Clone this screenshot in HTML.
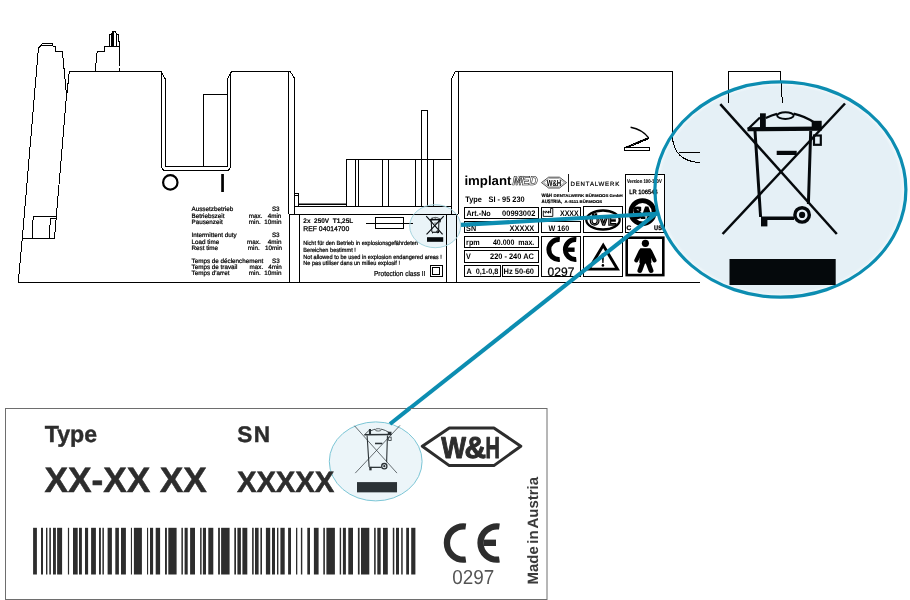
<!DOCTYPE html>
<html lang="de">
<head>
<meta charset="utf-8">
<title>Typenschild</title>
<style>
html,body{margin:0;padding:0;background:#fff;}
body{width:910px;height:600px;overflow:hidden;font-family:"Liberation Sans",sans-serif;}
svg{display:block;position:absolute;left:0;top:0;}
text{font-family:"Liberation Sans",sans-serif;text-rendering:geometricPrecision;}
.ln{fill:none;stroke:#000;stroke-width:1;shape-rendering:crispEdges;}
svg{will-change:transform;}
.tx text{fill:#000;}
</style>
</head>
<body>
<svg width="910" height="600" viewBox="0 0 910 600">

<rect width="910" height="600" fill="#fff"/>

<defs><radialGradient id="eg" cx="0.5" cy="0.5" r="0.5"><stop offset="0" stop-color="#e5f0f6"/><stop offset="0.955" stop-color="#e5f0f6"/><stop offset="0.985" stop-color="#f1f8fb"/><stop offset="1" stop-color="#f1f8fb"/></radialGradient></defs>
<ellipse cx="780.4" cy="189.5" rx="125.6" ry="107.8" fill="url(#eg)"/>
<ellipse cx="435.2" cy="226.2" rx="25.5" ry="21.5" fill="#eaf4f8"/>
<g class="ln">
<path d="M18.2,282.3 L22.3,238.3 L38.4,48.4 L41.3,45 L42.5,43.3 L52,43.3 L53,46.3 L55.3,46.3 L55.3,51.3 L62.4,51.3 L66.5,95 L54.5,238.3 L22.3,238.3"/>
<path d="M41.3,45.6 L53,45.6"/>
<path d="M69.3,71.4 L66.8,95"/>
<path d="M32.2,238.3 L33.2,216.3 L56.2,216.3 M50.2,218.3 L56,218.3 M50.2,218.3 L49.7,238.3"/>
<path d="M95.3,71.4 L96.7,54.7 L97.3,51.3 L104.4,51.3 L104.4,46.3 L118.6,46.3 M109.3,46.3 L109.3,34.3 L111.5,34.3 L111.5,46 M111.5,34.3 L112.5,31.5 L115.5,31.5 L116.7,34.3 L116.7,46 M113.4,32 L113.4,46 M116.7,34.3 L118.2,34.3 L118.2,41.3 L119.3,41.3 L119.3,66 M112.6,32.5 L112.6,46" />
<path d="M119.3,68.4 L119.3,71.4"/>
<path d="M69.3,71.4 L161.4,71.4 L161.4,167.5 L163.5,170.2 L228.6,170.2 L230.6,167.5 L230.6,72.8 L231.8,71.4 L290.2,71.4 L294.6,78.4 L294.6,214.1"/>
<path d="M161.4,72 L165.6,79.6 L165.6,166 L227.4,166 L227.4,79.6 L230.6,73.2"/>
<path d="M203.4,166 L203.4,94.4 L227.4,94.4"/>
<path d="M288.5,71.4 L288.5,214.1 M289.5,214.1 L289.5,282.3"/>
<path d="M18.2,282.3 L699.8,282.3"/>
<path d="M288.5,214.1 L458.3,214.1 M294.6,206 L451.6,206 M299.4,214.1 L299.4,282.3 M446.6,214.1 L446.6,282.3 M456.6,214.1 L456.6,282.3"/>
<path d="M294.6,193.4 L298.5,193.4 L298.5,206 M294.6,195.4 L298.5,195.4"/>
<path d="M298.5,204.2 L346.4,204.2" stroke-width="1.6" shape-rendering="auto"/>
<path d="M346.4,206 L346.4,159.6 L451.6,159.6 M355.4,159.6 V206 M358.4,159.6 V206 M382.6,159.6 V206 M388.6,159.6 V206 M415.5,159.6 V206 M421.5,110.4 V206 M427.6,110.4 V206 M433.6,159.6 V206 M421.5,110.4 H427.6"/>
<path d="M451.5,214.1 L451.5,79 L455.5,71.4 L672.4,71.4 L672.4,136 Q673.5,161 700,162.7 M678.7,152.3 L700,152.3"/>
<path d="M458.3,71.4 L458.3,214.1"/>
<path d="M728.6,102.7 L728.6,71.4 L780.2,71.4 L781.2,85 L782.4,102.7"/>
<path d="M624.2,147.8 H649.9 V150.7 H624.2 Z M625.3,147.4 L648.6,137.6 M626.5,148 L649,138.6" />
<path d="M630.6,127.2 Q642.5,129.5 648.4,137.6" shape-rendering="auto" stroke-width="1.5"/>
<path d="M626,147.4 L648.6,138" shape-rendering="auto" stroke-width="1.6" stroke-dasharray="1.2 0.8"/>
<path d="M365.5,223.4 H413 M375.5,217.8 H403.6 V228.6 H375.5 Z"/>
<rect x="430.3" y="265.3" width="11.9" height="11.5"/><rect x="432.8" y="267.8" width="7" height="6.7"/>
</g>
<circle cx="170.3" cy="182.4" r="7.2" fill="none" stroke="#000" stroke-width="2.2"/>
<rect x="221.2" y="174" width="2.7" height="18" fill="#000"/>
<g class="tx g">
<text x="191.5" y="211.2" font-size="6.3" font-weight="normal" text-anchor="start" stroke="#000" stroke-width="0.22" >Aussetzbetrieb</text>
<text x="279.6" y="211.2" font-size="6.3" font-weight="normal" text-anchor="end" stroke="#000" stroke-width="0.22" >S3</text>
<text x="191.5" y="218.4" font-size="6.3" font-weight="normal" text-anchor="start" stroke="#000" stroke-width="0.22" >Betriebszeit</text>
<text x="248.8" y="218.4" font-size="6.3" font-weight="normal" text-anchor="start" stroke="#000" stroke-width="0.22" >max.</text>
<text x="281.3" y="218.4" font-size="6.3" font-weight="normal" text-anchor="end" stroke="#000" stroke-width="0.22" >4min</text>
<text x="191.5" y="224.2" font-size="6.3" font-weight="normal" text-anchor="start" stroke="#000" stroke-width="0.22" >Pausenzeit</text>
<text x="248.8" y="224.2" font-size="6.3" font-weight="normal" text-anchor="start" stroke="#000" stroke-width="0.22" >min.</text>
<text x="281.5" y="224.2" font-size="6.3" font-weight="normal" text-anchor="end" stroke="#000" stroke-width="0.22" >10min</text>
<text x="191.5" y="237.2" font-size="6.3" font-weight="normal" text-anchor="start" stroke="#000" stroke-width="0.22" >Intermittent duty</text>
<text x="279.6" y="237.2" font-size="6.3" font-weight="normal" text-anchor="end" stroke="#000" stroke-width="0.22" >S3</text>
<text x="191.5" y="244.4" font-size="6.3" font-weight="normal" text-anchor="start" stroke="#000" stroke-width="0.22" >Load time</text>
<text x="247.1" y="244.4" font-size="6.3" font-weight="normal" text-anchor="start" stroke="#000" stroke-width="0.22" >max.</text>
<text x="281.5" y="244.4" font-size="6.3" font-weight="normal" text-anchor="end" stroke="#000" stroke-width="0.22" >4min</text>
<text x="191.5" y="250.2" font-size="6.3" font-weight="normal" text-anchor="start" stroke="#000" stroke-width="0.22" >Rest time</text>
<text x="247.8" y="250.2" font-size="6.3" font-weight="normal" text-anchor="start" stroke="#000" stroke-width="0.22" >min.</text>
<text x="282.1" y="250.2" font-size="6.3" font-weight="normal" text-anchor="end" stroke="#000" stroke-width="0.22" >10min</text>
<text x="191.5" y="263.2" font-size="6.3" font-weight="normal" text-anchor="start" stroke="#000" stroke-width="0.22" >Temps de déclenchement</text>
<text x="279.8" y="263.2" font-size="6.3" font-weight="normal" text-anchor="end" stroke="#000" stroke-width="0.22" >S3</text>
<text x="191.5" y="269.3" font-size="6.3" font-weight="normal" text-anchor="start" stroke="#000" stroke-width="0.22" >Temps de travail</text>
<text x="249.5" y="269.3" font-size="6.3" font-weight="normal" text-anchor="start" stroke="#000" stroke-width="0.22" >max.</text>
<text x="281.8" y="269.3" font-size="6.3" font-weight="normal" text-anchor="end" stroke="#000" stroke-width="0.22" >4min</text>
<text x="191.5" y="275.1" font-size="6.3" font-weight="normal" text-anchor="start" stroke="#000" stroke-width="0.22" >Temps d'arret</text>
<text x="248.8" y="275.1" font-size="6.3" font-weight="normal" text-anchor="start" stroke="#000" stroke-width="0.22" >min.</text>
<text x="281.5" y="275.1" font-size="6.3" font-weight="normal" text-anchor="end" stroke="#000" stroke-width="0.22" >10min</text>
<text x="303.3" y="223.2" font-size="6.7" font-weight="bold" text-anchor="start" textLength="49.9" lengthAdjust="spacingAndGlyphs" stroke="#000" stroke-width="0.1" >2x&#160; 250V&#160; T1,25L</text>
<text x="303.3" y="231.2" font-size="6.8" font-weight="normal" text-anchor="start" textLength="45.9" lengthAdjust="spacingAndGlyphs" stroke="#000" stroke-width="0.25" >REF 04014700</text>
<text x="303.3" y="244.9" font-size="6.0" font-weight="normal" text-anchor="start" textLength="114.6" lengthAdjust="spacingAndGlyphs" stroke="#000" stroke-width="0.22" >Nicht für den Betrieb in explosionsgefährdeten</text>
<text x="303.3" y="251.9" font-size="6.0" font-weight="normal" text-anchor="start" textLength="52.5" lengthAdjust="spacingAndGlyphs" stroke="#000" stroke-width="0.22" >Bereichen bestimmt !</text>
<text x="303.3" y="259.2" font-size="6.0" font-weight="normal" text-anchor="start" textLength="138.5" lengthAdjust="spacingAndGlyphs" stroke="#000" stroke-width="0.22" >Not allowed to be used in explosion endangered areas !</text>
<text x="303.3" y="265.1" font-size="6.0" font-weight="normal" text-anchor="start" textLength="96.7" lengthAdjust="spacingAndGlyphs" stroke="#000" stroke-width="0.22" >Ne pas utiliser dans un milieu explosif !</text>
<text x="374" y="276.1" font-size="7.2" font-weight="normal" text-anchor="start" textLength="51.4" lengthAdjust="spacingAndGlyphs" stroke="#000" stroke-width="0.22" >Protection class II</text>
</g>
<g class="tx g">
<text x="464.4" y="184.7" font-size="13.0" font-weight="bold" text-anchor="start" textLength="47.0" lengthAdjust="spacingAndGlyphs" >implant</text>
<text x="512.6" y="184.5" font-size="12.6" font-weight="bold" font-style="italic" stroke="#000" stroke-width="0.55" textLength="25" lengthAdjust="spacingAndGlyphs" style="fill:#fff">MED</text>
<path d="M514.5,183.2 l4.2,-7.4 M516.6,183.2 l4.2,-7.4 M518.8,183.2 l4.2,-7.4 M521,183 l3.6,-6.4" stroke="#000" stroke-width="0.35" fill="none"/>
<path d="M541.5,182.6 L548.6,177.2 L559.4,177.2 L566.5,182.6 L559.4,188 L548.6,188 Z" fill="#fff" stroke="#000" stroke-width="0.7"/>
<path d="M543.6,182.6 L549.2,178.4 L558.8,178.4 L564.4,182.6 L558.8,186.8 L549.2,186.8 Z" fill="none" stroke="#000" stroke-width="0.35"/>
<text x="554" y="185.9" font-size="8.8" font-weight="bold" text-anchor="middle" textLength="14.6" lengthAdjust="spacingAndGlyphs" >W&amp;H</text>
<path d="M568.4,174 V191.6" stroke="#000" stroke-width="0.9" shape-rendering="crispEdges"/>
<text x="570.5" y="185.9" font-size="6.1" textLength="48.8" lengthAdjust="spacing" stroke="#000" stroke-width="0.2">DENTALWERK</text>
<text x="541.5" y="196.9" font-size="4.9" font-weight="bold" text-anchor="start" textLength="10.5" lengthAdjust="spacingAndGlyphs" stroke="#000" stroke-width="0.2" >W&amp;H</text>
<text x="553.6" y="196.9" font-size="4.0" font-weight="bold" text-anchor="start" textLength="69.2" lengthAdjust="spacingAndGlyphs" stroke="#000" stroke-width="0.15" >DENTALWERK BÜRMOOS GmbH</text>
<text x="541.5" y="202.5" font-size="4.9" font-weight="bold" text-anchor="start" textLength="20.6" lengthAdjust="spacingAndGlyphs" stroke="#000" stroke-width="0.2" >AUSTRIA,</text>
<text x="564.6" y="202.5" font-size="4.0" font-weight="bold" text-anchor="start" textLength="37.6" lengthAdjust="spacingAndGlyphs" stroke="#000" stroke-width="0.15" >A-5111 BÜRMOOS</text>
<text x="465.3" y="202.2" font-size="8" font-weight="bold" text-anchor="start" textLength="16.6" lengthAdjust="spacingAndGlyphs" >Type</text>
<text x="488.6" y="202.2" font-size="8" font-weight="bold" text-anchor="start" textLength="36" lengthAdjust="spacingAndGlyphs" >SI - 95 230</text>
</g>
<g class="ln" stroke-width="1">
<rect x="464.4" y="207.4" width="74.1" height="10.8"/>
<rect x="464.4" y="221.4" width="74.1" height="10.9"/>
<rect x="464.4" y="236.6" width="74.1" height="10.7"/>
<rect x="464.4" y="250.5" width="74.1" height="11.6"/>
<rect x="464.4" y="265.5" width="36.2" height="11"/>
<rect x="502.2" y="265.5" width="36.3" height="11"/>
<rect x="541.5" y="207.2" width="39.1" height="11"/>
<rect x="541.5" y="221.4" width="39.1" height="10.9"/>
<rect x="541.5" y="236.6" width="39.1" height="39.9"/>
<rect x="583.4" y="206.8" width="39.4" height="25.4"/>
<rect x="583.4" y="236.5" width="39.4" height="40"/>
<rect x="625.4" y="174.4" width="39.2" height="57.9" style="fill:#fff"/>
</g>
<g class="tx g">
<text x="466.4" y="215.8" font-size="8.0" font-weight="bold" text-anchor="start" textLength="24.3" lengthAdjust="spacingAndGlyphs" >Art.-No</text>
<text x="502.1" y="215.8" font-size="8.0" font-weight="bold" text-anchor="start" textLength="33.2" lengthAdjust="spacingAndGlyphs" >00993002</text>
<text x="466.1" y="230.7" font-size="8.0" font-weight="bold" text-anchor="start" textLength="10.0" lengthAdjust="spacingAndGlyphs" >SN</text>
<text x="509.6" y="230.7" font-size="8.0" font-weight="bold" text-anchor="start" textLength="24.7" lengthAdjust="spacingAndGlyphs" >XXXXX</text>
<text x="466.1" y="244.8" font-size="8.0" font-weight="bold" text-anchor="start" textLength="13.6" lengthAdjust="spacingAndGlyphs" >rpm</text>
<text x="492.9" y="244.8" font-size="8.0" font-weight="bold" text-anchor="start" textLength="41.4" lengthAdjust="spacingAndGlyphs" >40.000&#160; max.</text>
<text x="466.1" y="259.2" font-size="8.0" font-weight="bold" text-anchor="start" textLength="4.8" lengthAdjust="spacingAndGlyphs" >V</text>
<text x="490" y="259.2" font-size="8.0" font-weight="bold" text-anchor="start" textLength="43.9" lengthAdjust="spacingAndGlyphs" >220 - 240 AC</text>
<text x="466.4" y="273.9" font-size="8.0" font-weight="bold" text-anchor="start" textLength="31.9" lengthAdjust="spacingAndGlyphs" >A&#160; 0,1-0,8</text>
<text x="503.6" y="273.9" font-size="8.0" font-weight="bold" text-anchor="start" textLength="30.4" lengthAdjust="spacingAndGlyphs" >Hz 50-60</text>
<text x="560" y="215.8" font-size="8.0" font-weight="bold" text-anchor="start" textLength="18.6" lengthAdjust="spacingAndGlyphs" >XXXX</text>
<text x="548.6" y="230.7" font-size="8.0" font-weight="bold" text-anchor="start" textLength="20.7" lengthAdjust="spacingAndGlyphs" >W 160</text>
<text x="547.6" y="276.0" font-size="12.2" font-weight="normal" text-anchor="start" textLength="26.8" lengthAdjust="spacingAndGlyphs" stroke="#000" stroke-width="0.25" >0297</text>
<text x="627" y="183.0" font-size="5.3" font-weight="bold" text-anchor="start" textLength="34.8" lengthAdjust="spacingAndGlyphs" stroke="#000" stroke-width="0.1" >Version 100-130V</text>
<text x="629.2" y="193.9" font-size="6.2" font-weight="normal" text-anchor="start" textLength="28.7" lengthAdjust="spacingAndGlyphs" stroke="#000" stroke-width="0.3" >LR 106544</text>
<text x="629" y="229.5" font-size="6.6" font-weight="bold" text-anchor="middle" stroke="#000" stroke-width="0.3" >C</text>
<text x="658" y="229.5" font-size="6.6" font-weight="bold" text-anchor="middle" textLength="7.8" lengthAdjust="spacingAndGlyphs" stroke="#000" stroke-width="0.3" >US</text>
</g>
<path d="M543.3,216.4 V210.9 L545.9,213.1 V210.9 L548.5,213.1 V210.9 L550.6,213.1 V208.4 H552.8 V216.4 Z" fill="#fff" stroke="#000" stroke-width="0.9" stroke-linejoin="miter"/>
<g fill="none" stroke="#000" stroke-width="4.9">
<path d="M559.8,239.6 A9.95,9.95 0 1 0 559.8,259.4"/>
<path d="M576.3,239.6 A9.95,9.95 0 1 0 576.3,259.4"/><path d="M567.4,249.7 H574.6" stroke-width="4.4"/>
</g>
<ellipse cx="603" cy="220" rx="16.7" ry="9.5" fill="#fff" stroke="#000" stroke-width="2.3"/>
<text x="603.1" y="225.3" font-size="13" font-weight="bold" text-anchor="middle" stroke="#000" stroke-width="1.25" textLength="26.5" lengthAdjust="spacingAndGlyphs" style="fill:#ccc">ÖVE</text>
<circle cx="642.5" cy="212.2" r="11.6" fill="#fff" stroke="#000" stroke-width="4.8"/>
<text x="642.7" y="218.2" font-size="16" font-weight="bold" text-anchor="middle" stroke="#000" stroke-width="2" textLength="18.5" lengthAdjust="spacingAndGlyphs" style="font-family:'Liberation Serif',serif;fill:#000">SA</text>
<path d="M603.2,245.3 L617.4,269.1 H589 Z" fill="none" stroke="#000" stroke-width="2.9" stroke-linejoin="miter"/>
<path d="M601.7,253.4 H604.1 L603.5,262.9 H602.3 Z" fill="#000"/><circle cx="602.9" cy="265.4" r="1.3"/>
<rect x="626.7" y="237.7" width="36.6" height="37.4" fill="none" stroke="#000" stroke-width="2.6"/>
<g fill="#000" stroke="#000" stroke-linecap="round" stroke-linejoin="round">
<circle cx="645.4" cy="243.3" r="3.6" stroke="none"/>
<path d="M640.6,251.4 L636.3,260.3 M650.2,251.4 L654.5,260.3" stroke-width="4.1" fill="none"/>
<path d="M640.8,249.2 H650 L650.4,262.5 H640.4 Z" stroke-width="2"/>
<path d="M643,262 L639.9,270.5 M647.8,262 L651,270.5" stroke-width="4.9" fill="none"/>
</g>
<g fill="none" stroke="#0c8db1">
<path d="M460.7,224.9 L657,213.7" stroke-width="4.1"/>
<path d="M390,424 L657,212.8" stroke-width="4.1"/>
<ellipse cx="780.4" cy="189.5" rx="125.5" ry="107.7" stroke-width="3.2"/>
<ellipse cx="435.2" cy="226.2" rx="25.5" ry="21.5" stroke="#a6d5df" stroke-width="1"/>
</g>

<g transform="translate(720,104) scale(1.0)" opacity="1.0">
  <g fill="none" stroke="#05090c" stroke-linecap="butt">
    <path d="M0.3,0.2 L116.8,130" stroke-width="2.52"/>
    <path d="M125,-0.5 L2.6,130" stroke-width="2.52"/>
    <path d="M27.5,25.3 L101.7,24.6" stroke-width="4.14"/>
    <path d="M28,25 L40,13.5 M45.8,14 Q52,11 57,9.8 M73.6,9.6 Q86,12.5 95,19" stroke-width="2.30"/>
    <ellipse cx="65.4" cy="11.6" rx="8.3" ry="3.3" stroke-width="1.95"/>
    <rect x="94" y="31.5" width="6.8" height="9.3" stroke-width="2.18"/>
    <path d="M35,27 L40.6,113 M90.7,27 L88.4,100" stroke-width="2.99"/>
    <path d="M41,114.2 L74,114.2" stroke-width="3.45"/>
    <circle cx="82.1" cy="110.9" r="7.2" stroke-width="3.45"/>
  </g>
  <g fill="#05090c">
    <rect x="40" y="9.3" width="5.8" height="14.5"/>
    <rect x="91.7" y="16.8" width="10" height="8.6"/>
    <rect x="56.7" y="46.8" width="20" height="4.2"/>
    <rect x="41" y="113" width="6.4" height="9.4"/>
    <circle cx="82.1" cy="110.9" r="3.1"/>
    <rect x="9.5" y="155" width="106.2" height="26"/>
  </g>
</g>


<g transform="translate(426.2,216.2) scale(0.1405)" opacity="1.0">
  <g fill="none" stroke="#05090c" stroke-linecap="butt">
    <path d="M0.3,0.2 L116.8,130" stroke-width="7.92"/>
    <path d="M125,-0.5 L2.6,130" stroke-width="7.92"/>
    <path d="M27.5,25.3 L101.7,24.6" stroke-width="9.36"/>
    <path d="M28,25 L40,13.5 M45.8,14 Q52,11 57,9.8 M73.6,9.6 Q86,12.5 95,19" stroke-width="5.20"/>
    <ellipse cx="65.4" cy="11.6" rx="8.3" ry="3.3" stroke-width="4.42"/>
    <rect x="94" y="31.5" width="6.8" height="9.3" stroke-width="4.94"/>
    <path d="M35,27 L40.6,113 M90.7,27 L88.4,100" stroke-width="6.76"/>
    <path d="M41,114.2 L74,114.2" stroke-width="7.80"/>
    <circle cx="82.1" cy="110.9" r="7.2" stroke-width="7.80"/>
  </g>
  <g fill="#05090c">
    <rect x="40" y="9.3" width="5.8" height="14.5"/>
    <rect x="91.7" y="16.8" width="10" height="8.6"/>
    <rect x="56.7" y="46.8" width="20" height="4.2"/>
    <rect x="41" y="113" width="6.4" height="9.4"/>
    <circle cx="82.1" cy="110.9" r="3.1"/>
    <rect x="5.7" y="149.5" width="115.3" height="32.7"/>
  </g>
</g>

<rect x="5.5" y="408.5" width="541.5" height="191" fill="#fff" stroke="#6e6e6e" stroke-width="1"/>
<ellipse cx="375.7" cy="461.4" rx="46.4" ry="39.5" fill="#ecf5f9" stroke="#7cc6d6" stroke-width="1"/>
<path d="M390,424 L410,408.15" stroke="#0c8db1" stroke-width="4.1"/>

<g transform="translate(354.3,425.6) scale(0.3655)" opacity="1.0">
  <g fill="none" stroke="#2b3236" stroke-linecap="butt">
    <path d="M0.3,0.2 L116.8,130" stroke-width="1.92"/>
    <path d="M125,-0.5 L2.6,130" stroke-width="1.92"/>
    <path d="M27.5,25.3 L101.7,24.6" stroke-width="4.14"/>
    <path d="M28,25 L40,13.5 M45.8,14 Q52,11 57,9.8 M73.6,9.6 Q86,12.5 95,19" stroke-width="2.30"/>
    <ellipse cx="65.4" cy="11.6" rx="8.3" ry="3.3" stroke-width="1.95"/>
    <rect x="94" y="31.5" width="6.8" height="9.3" stroke-width="2.18"/>
    <path d="M35,27 L40.6,113 M90.7,27 L88.4,100" stroke-width="2.99"/>
    <path d="M41,114.2 L74,114.2" stroke-width="3.45"/>
    <circle cx="82.1" cy="110.9" r="7.2" stroke-width="3.45"/>
  </g>
  <g fill="#2b3236">
    <rect x="40" y="9.3" width="5.8" height="14.5"/>
    <rect x="91.7" y="16.8" width="10" height="8.6"/>
    <rect x="56.7" y="46.8" width="20" height="4.2"/>
    <rect x="41" y="113" width="6.4" height="9.4"/>
    <circle cx="82.1" cy="110.9" r="3.1"/>
    <rect x="7.4" y="154.6" width="109.5" height="28"/>
  </g>
</g>

<g fill="#2d2d2d" class="g">
<text x="44.7" y="442.3" font-size="23.2" font-weight="bold" stroke="#2d2d2d" stroke-width="0.4">Type</text>
<text x="237.3" y="442.4" font-size="22.6" font-weight="bold" letter-spacing="1.4" stroke="#2d2d2d" stroke-width="0.4">SN</text>
<text x="44.6" y="492.0" font-size="35.3" font-weight="bold" textLength="162.2" lengthAdjust="spacing" stroke="#2d2d2d" stroke-width="0.5">XX-XX XX</text>
<text x="237" y="492.2" font-size="29.3" font-weight="bold" textLength="97.2" lengthAdjust="spacing" stroke="#2d2d2d" stroke-width="0.5">XXXXX</text>
<rect x="33.1" y="527.8" width="3.8" height="46.7"/><rect x="41.0" y="527.8" width="2.0" height="46.7"/><rect x="46.0" y="527.8" width="1.4" height="46.7"/><rect x="49.3" y="527.8" width="1.6" height="46.7"/><rect x="53.0" y="527.8" width="2.9" height="46.7"/><rect x="57.1" y="527.8" width="5.0" height="46.7"/><rect x="67.9" y="527.8" width="1.2" height="46.7"/><rect x="73.0" y="527.8" width="4.7" height="46.7"/><rect x="79.0" y="527.8" width="2.9" height="46.7"/><rect x="85.0" y="527.8" width="3.1" height="46.7"/><rect x="91.1" y="527.8" width="4.8" height="46.7"/><rect x="99.0" y="527.8" width="1.9" height="46.7"/><rect x="102.4" y="527.8" width="1.5" height="46.7"/><rect x="107.6" y="527.8" width="4.3" height="46.7"/><rect x="115.3" y="527.8" width="3.6" height="46.7"/><rect x="121.0" y="527.8" width="4.9" height="46.7"/><rect x="130.9" y="527.8" width="1.1" height="46.7"/><rect x="133.9" y="527.8" width="8.0" height="46.7"/><rect x="147.0" y="527.8" width="1.1" height="46.7"/><rect x="150.0" y="527.8" width="3.1" height="46.7"/><rect x="155.7" y="527.8" width="4.4" height="46.7"/><rect x="165.0" y="527.8" width="1.9" height="46.7"/><rect x="168.3" y="527.8" width="8.3" height="46.7"/><rect x="181.4" y="527.8" width="1.5" height="46.7"/><rect x="184.6" y="527.8" width="3.1" height="46.7"/><rect x="190.1" y="527.8" width="4.9" height="46.7"/><rect x="200.1" y="527.8" width="1.5" height="46.7"/><rect x="202.9" y="527.8" width="3.1" height="46.7"/><rect x="208.3" y="527.8" width="5.0" height="46.7"/><rect x="218.1" y="527.8" width="1.8" height="46.7"/><rect x="221.1" y="527.8" width="8.5" height="46.7"/><rect x="234.3" y="527.8" width="1.7" height="46.7"/><rect x="237.4" y="527.8" width="3.5" height="46.7"/><rect x="242.4" y="527.8" width="4.9" height="46.7"/><rect x="252.1" y="527.8" width="1.6" height="46.7"/><rect x="255.0" y="527.8" width="3.6" height="46.7"/><rect x="260.4" y="527.8" width="1.6" height="46.7"/><rect x="265.9" y="527.8" width="4.3" height="46.7"/><rect x="272.0" y="527.8" width="3.0" height="46.7"/><rect x="277.0" y="527.8" width="1.4" height="46.7"/><rect x="280.4" y="527.8" width="4.3" height="46.7"/><rect x="288.1" y="527.8" width="2.9" height="46.7"/><rect x="296.0" y="527.8" width="1.3" height="46.7"/><rect x="300.9" y="527.8" width="1.4" height="46.7"/><rect x="307.3" y="527.8" width="2.7" height="46.7"/><rect x="313.9" y="527.8" width="4.7" height="46.7"/><rect x="323.3" y="527.8" width="1.6" height="46.7"/><rect x="326.4" y="527.8" width="8.5" height="46.7"/><rect x="339.7" y="527.8" width="1.4" height="46.7"/><rect x="342.9" y="527.8" width="3.0" height="46.7"/><rect x="348.3" y="527.8" width="4.7" height="46.7"/><rect x="357.9" y="527.8" width="1.7" height="46.7"/><rect x="361.0" y="527.8" width="8.3" height="46.7"/><rect x="374.1" y="527.8" width="1.6" height="46.7"/><rect x="377.3" y="527.8" width="3.4" height="46.7"/><rect x="383.0" y="527.8" width="4.8" height="46.7"/><rect x="392.8" y="527.8" width="1.5" height="46.7"/><rect x="396.0" y="527.8" width="3.0" height="46.7"/><rect x="401.2" y="527.8" width="1.5" height="46.7"/><rect x="406.2" y="527.8" width="2.8" height="46.7"/><rect x="411.2" y="527.8" width="4.2" height="46.7"/>
<g font-size="30.3" font-weight="bold" stroke="#2d2d2d" stroke-width="1.0" stroke-linejoin="round"><text x="441.3" y="457.9" textLength="24.8" lengthAdjust="spacingAndGlyphs">W</text><text x="464.6" y="457.9" textLength="21.6" lengthAdjust="spacingAndGlyphs">&amp;</text><text x="485.6" y="457.9" textLength="14.4" lengthAdjust="spacingAndGlyphs">H</text></g>
<text transform="translate(537.8,584.6) rotate(-90)" font-size="15" font-weight="bold" word-spacing="-1.7" fill="#3a3a3a">Made in Austria</text>
<text x="452.3" y="583.6" font-size="20.2" fill="#555" textLength="42" lengthAdjust="spacingAndGlyphs">0297</text>
</g>
<path d="M422.3,446.2 L449.3,427.9 L493.9,427.9 L520.8,446.2 L493.9,465.6 L449.3,465.6 Z" fill="none" stroke="#2d2d2d" stroke-width="3.0" stroke-linejoin="round"/>
<g fill="none" stroke="#2d2d2d" stroke-width="6.3">
<path d="M465.8,526.5 A16.65,16.65 0 1 0 465.8,559.5"/>
<path d="M499.4,526.5 A16.65,16.65 0 1 0 499.4,559.5"/><path d="M483.6,542.8 H496" stroke-width="6.4"/>
</g>
</svg>
</body>
</html>
